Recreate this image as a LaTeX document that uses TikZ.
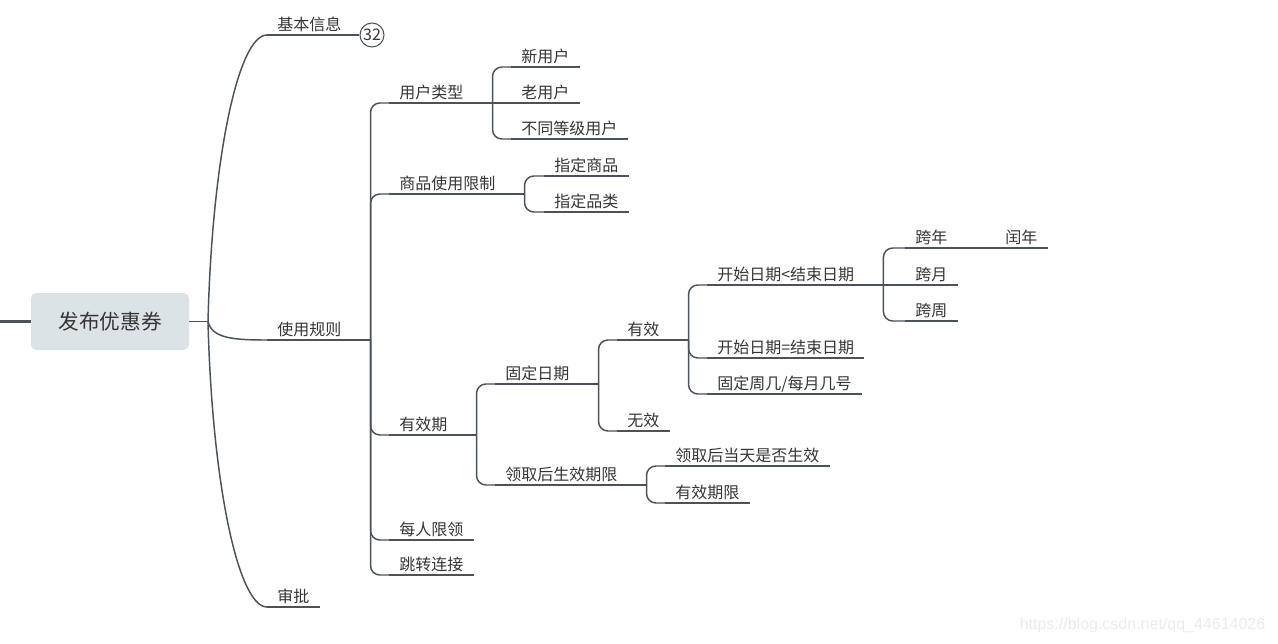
\documentclass[tikz,border=0pt]{standalone}
\usepackage{fontspec}
\setmainfont{Noto Sans CJK SC}
\newfontfamily\markfont{Liberation Sans}

\definecolor{linegray}{HTML}{4B525A}
\definecolor{textgray}{HTML}{353535}
\definecolor{rootfill}{HTML}{DCE3E6}

\tikzset{
	topic/.style={anchor=south west, inner xsep=7.5pt, inner ysep=3pt,
		text height=0.8em, text depth=0pt, text=textgray,
		font=\fontsize{12}{14}\selectfont},
	uline/.style={draw=linegray, line width=1.1pt},
	branch/.style={uline, rounded corners=7pt},
}

\begin{document}
\begin{tikzpicture}[x=0.75pt, y=-0.75pt]
		\useasboundingbox (0,0) rectangle (1278,643);
		\node[fill=rootfill, rounded corners=4pt, minimum width=118.5pt, minimum height=42.75pt,
			inner sep=0pt, text=textgray, font=\fontsize{15.5}{18}\selectfont] (root) at (110,321.5) {发布优惠券};
		\coordinate (stub) at (0,321.5);
		\draw[uline, line width=2.2pt] (stub) -- (root.west);
		\draw[uline] (root.east) -- (208,321.5) coordinate (j1);
		% first level
		\node[topic] (info) at (267,35) {基本信息};
		\node[topic] (rules) at (267,340) {使用规则};
		\node[topic] (approve) at (267,607) {审批};
		\node[circle, draw=linegray, line width=0.8pt, fill=white, minimum size=18pt, inner sep=0pt,
			text=textgray, font=\fontsize{12}{13}\selectfont] (badge) at (372,35) {32};
		\draw[uline] (j1) .. controls (212,160) and (238,35) .. (info.south west);
		\draw[uline] (j1) .. controls (212,338) and (232,340) .. (rules.south west);
		\draw[uline] (j1) .. controls (212,482) and (238,607) .. (approve.south west);
		\draw[uline] (info.south east) -- (badge.west);
		% use rules
		\node[topic] (usertype) at (389,103) {用户类型};
		\node[topic] (goods) at (389,194) {商品使用限制};
		\node[topic] (validity) at (389,435) {有效期};
		\node[topic] (limit) at (389,540) {每人限领};
		\node[topic] (jump) at (389,575) {跳转连接};
		\draw[uline] (rules.south east) -- ++(19,0) coordinate (jrules);
		\foreach \c in {usertype, goods, validity, limit, jump}
			\draw[branch] (jrules) |- (\c.south west);
		% user type
		\node[topic] (newuser) at (511,67) {新用户};
		\node[topic] (olduser) at (511,103) {老用户};
		\node[topic] (leveluser) at (511,139) {不同等级用户};
		\draw[uline] (usertype.south east) -- ++(19,0) coordinate (juser) -- (olduser.south west);
		\draw[branch] (juser) |- (newuser.south west);
		\draw[branch] (juser) |- (leveluser.south west);
		% goods
		\node[topic] (specgoods) at (544,176) {指定商品};
		\node[topic] (speccat) at (544,212) {指定品类};
		\draw[uline] (goods.south east) -- ++(19,0) coordinate (jgoods);
		\draw[branch] (jgoods) |- (specgoods.south west);
		\draw[branch] (jgoods) |- (speccat.south west);
		% validity
		\node[topic] (fixdate) at (495,384) {固定日期};
		\node[topic] (afterget) at (495,485) {领取后生效期限};
		\draw[uline] (validity.south east) -- ++(19,0) coordinate (jvalid);
		\draw[branch] (jvalid) |- (fixdate.south west);
		\draw[branch] (jvalid) |- (afterget.south west);
		\node[topic] (valid) at (617,340) {有效};
		\node[topic] (invalid) at (617,431) {无效};
		\draw[uline] (fixdate.south east) -- ++(19,0) coordinate (jfix);
		\draw[branch] (jfix) |- (valid.south west);
		\draw[branch] (jfix) |- (invalid.south west);
		\node[topic] (lt) at (707,285) {开始日期<结束日期};
		\node[topic] (eq) at (707,358) {开始日期=结束日期};
		\node[topic] (week) at (707,394) {固定周几/每月几号};
		\draw[uline] (valid.south east) -- ++(19,0) coordinate (jyes);
		\draw[branch] (jyes) |- (lt.south west);
		\draw[branch] (jyes) |- (eq.south west);
		\draw[branch] (jyes) |- (week.south west);
		\node[topic] (crossyear) at (905,248) {跨年};
		\node[topic] (crossmonth) at (905,285) {跨月};
		\node[topic] (crossweek) at (905,321) {跨周};
		\node[topic] (leap) at (995,248) {闰年};
		\draw[uline] (lt.south east) -- ++(19,0) coordinate (jlt) -- (crossmonth.south west);
		\draw[branch] (jlt) |- (crossyear.south west);
		\draw[branch] (jlt) |- (crossweek.south west);
		\draw[uline] (crossyear.south east) -- (leap.south west);
		\node[topic] (sameday) at (665,466) {领取后当天是否生效};
		\node[topic] (validterm) at (665,503) {有效期限};
		\draw[uline] (afterget.south east) -- ++(19,0) coordinate (jafter);
		\draw[branch] (jafter) |- (sameday.south west);
		\draw[branch] (jafter) |- (validterm.south west);
		% underlines
		\foreach \n in {info, rules, approve, usertype, goods, validity, limit, jump,
			newuser, olduser, leveluser, specgoods, speccat, fixdate, afterget, valid, invalid,
			lt, eq, week, crossyear, crossmonth, crossweek, leap, sameday, validterm}
			\draw[uline] (\n.south west) -- (\n.south east);
		\node[anchor=east, text=black!8, font=\markfont\fontsize{12}{14}\selectfont] (mark) at (1270,625)
			{https://blog.csdn.net/qq\_44614026};
	\end{tikzpicture}
\end{document}
